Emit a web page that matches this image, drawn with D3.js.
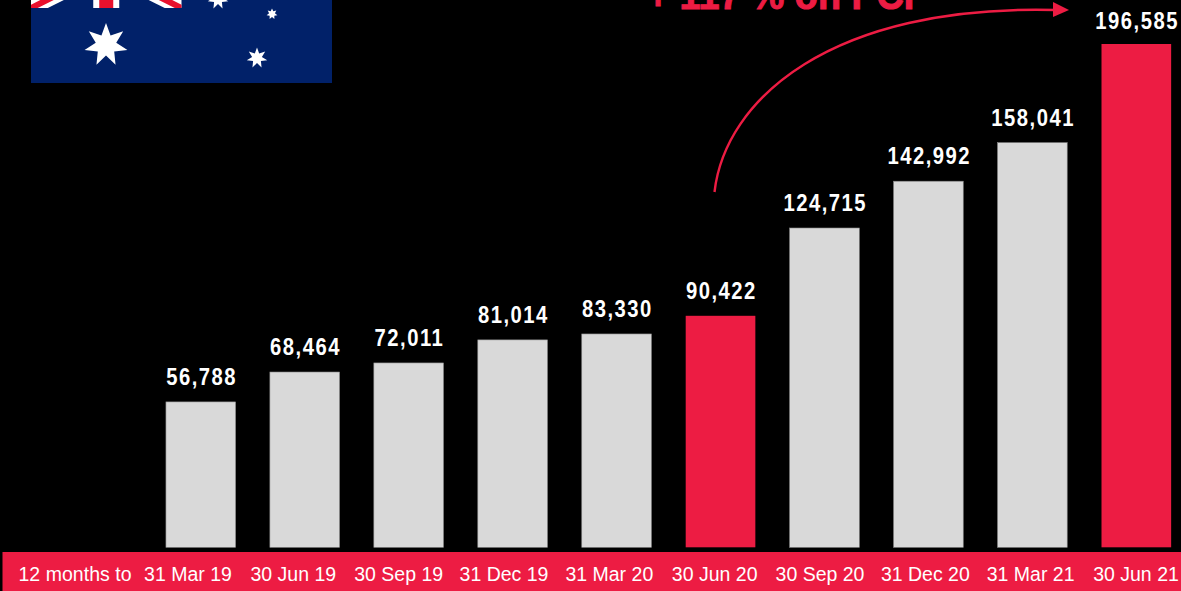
<!DOCTYPE html>
<html><head><meta charset="utf-8">
<script src="https://cdn.jsdelivr.net/npm/d3@7"></script>
<style>html,body{margin:0;background:#000;overflow:hidden}svg{display:block}text{font-family:"Liberation Sans",Arial,sans-serif}</style>
</head><body><svg id="c" width="1181" height="591"></svg>
<script>
const periods = ["31 Mar 19","30 Jun 19","30 Sep 19","31 Dec 19","31 Mar 20","30 Jun 20","30 Sep 20","31 Dec 20","31 Mar 21","30 Jun 21"];
const values = [56788,68464,72011,81014,83330,90422,124715,142992,158041,196585];
const highlighted = ["30 Jun 20","30 Jun 21"];
const rowLabel = "12 months to";
const headline = "+ 117 % on PCP";

const RED = "#ed1c43", GREY = "#d9d9d9";
const svg = d3.select("#c");
const x = d3.scaleBand().domain(periods).range([148.8,1188.3]).paddingInner(0.33).paddingOuter(0.165);
const y = d3.scaleLinear().domain([0,196585]).range([547.3,44]);
const labelX = d3.scalePoint().domain(periods).range([187.5,1135.5]);
const fmt = d3.format(",");

// Flag, running off the top edge
const flag = svg.append("g");
const fx=31, fw=301, fb=83, fh=150, ft=fb-fh;
flag.append("rect").attr("x",fx).attr("y",0).attr("width",fw).attr("height",fb).attr("fill","#012169");
const cx=fx+fw/4, cy=ft+fh/4, qw=fw/2, qh=fh/2;
svg.append("defs").append("clipPath").attr("id","uj").append("rect").attr("x",fx).attr("y",ft).attr("width",qw).attr("height",qh);
const uj = flag.append("g").attr("clip-path","url(#uj)");
[[fx,ft,fx+qw,ft+qh],[fx,ft+qh,fx+qw,ft]].forEach(l=>{
  uj.append("line").attr("x1",l[0]).attr("y1",l[1]).attr("x2",l[2]).attr("y2",l[3]).attr("stroke","#fff").attr("stroke-width",15);
  uj.append("line").attr("x1",l[0]).attr("y1",l[1]).attr("x2",l[2]).attr("y2",l[3]).attr("stroke","#e8112d").attr("stroke-width",6);
});
uj.append("rect").attr("x",cx-13).attr("y",ft).attr("width",26).attr("height",qh).attr("fill","#fff");
uj.append("rect").attr("x",fx).attr("y",cy-13).attr("width",qw).attr("height",26).attr("fill","#fff");
uj.append("rect").attr("x",cx-7).attr("y",ft).attr("width",14).attr("height",qh).attr("fill","#e8112d");
uj.append("rect").attr("x",fx).attr("y",cy-7).attr("width",qw).attr("height",14).attr("fill","#e8112d");

function star(px,py,R,r,n){
  const pts=d3.range(n*2).map(i=>{const a=-Math.PI/2+i*Math.PI/n,q=i%2?r:R;return [px+q*Math.cos(a),py+q*Math.sin(a)];});
  flag.append("path").attr("d",d3.line()(pts)+"Z").attr("fill","#fff");
}
star(106,45,22,10.5,7);
star(257,58,10.5,5,7);
star(272,14,5.5,3,7);
star(218,-1,10.5,5,7);

// Bars and their value labels
svg.append("g").selectAll("rect").data(periods).join("rect")
  .attr("x",d=>x(d)).attr("width",x.bandwidth())
  .attr("y",(d,i)=>y(values[i])).attr("height",(d,i)=>y(0)-y(values[i]))
  .attr("fill",d=>highlighted.includes(d)?RED:GREY)
  .attr("stroke",d=>highlighted.includes(d)?"none":"#8a8a8a").attr("stroke-width",0.6);
// Condensed numerals: squeeze the bold face horizontally and open up the tracking.
// The tallest bar's label sits closer to its bar, leaving room under the top edge.
svg.append("g").selectAll("text").data(periods).join("text")
  .attr("transform",(d,i)=>`translate(${x(d)+x.bandwidth()/2+0.8},${y(values[i])-(i===values.length-1?15:17)}) scale(0.88,1)`)
  .attr("text-anchor","middle").attr("fill","#fff").attr("font-weight","700").attr("font-size",23)
  .style("letter-spacing","1.7px")
  .text((d,i)=>fmt(values[i]));

// Footer band holding the category labels
svg.append("rect").attr("x",2.5).attr("y",552).attr("width",1179).attr("height",39).attr("fill",RED);
const axis = d3.axisBottom(labelX).tickSize(0).tickPadding(0);
const ag = svg.append("g").attr("transform","translate(0,581)").call(axis);
ag.select(".domain").remove();
ag.selectAll("text").attr("dy",0).attr("fill","#fff").attr("font-size",19.5).attr("font-family",'"Liberation Sans",Arial,sans-serif');
svg.append("text").attr("x",75).attr("y",581).attr("text-anchor","middle").attr("fill","#fff").attr("font-size",19.5)
  .attr("textLength",113).attr("lengthAdjust","spacing").text(rowLabel);

// Growth headline and arrow
svg.append("text").attr("x",647).attr("y",9).attr("fill",RED).attr("stroke",RED).attr("stroke-width",1)
  .attr("font-weight","700").attr("font-size",40).attr("textLength",282).attr("lengthAdjust","spacingAndGlyphs").text(headline);
svg.append("path").attr("d","M714.5 192 C725 100 830 4 1056 10").attr("fill","none").attr("stroke",RED).attr("stroke-width",2.4);
svg.append("path").attr("d","M1053 2 L1069 10 L1053 17 Z").attr("fill",RED);
</script></body></html>
